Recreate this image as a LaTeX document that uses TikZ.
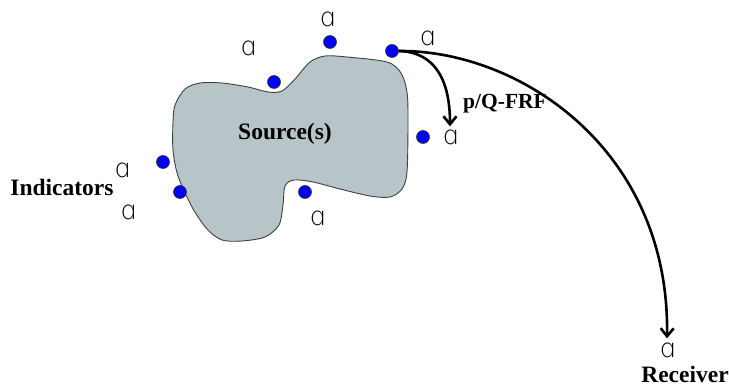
\documentclass[tikz,border=0pt]{standalone}
\usepackage{fontspec}
\setmainfont{Liberation Serif}
\newfontfamily\micfont{DejaVu Sans ExtraLight}
\usetikzlibrary{arrows.meta}
\definecolor{blobfill}{RGB}{183,196,200}
\definecolor{dotblue}{RGB}{0,0,245}
\tikzset{
  lbl/.style={font=\fontsize{23.5}{26}\selectfont\bfseries, inner sep=0pt},
  mic/.style={font=\fontsize{26}{28}\micfont, inner sep=0pt},
  sensor/.style={circle, fill=dotblue, draw=black!80, line width=0.6pt, minimum size=13pt, inner sep=0pt},
  blob/.style={draw=black!75, line width=0.9pt, fill=blobfill},
  frf/.style={line width=2.6pt, -{Straight Barb[length=8pt,width=13pt,line width=2.6pt]}}
}
\begin{document}
\begin{tikzpicture}[x=1pt,y=-1pt]
\useasboundingbox (0,0) rectangle (729,387);
\draw[blob] plot[smooth cycle, tension=0.5] coordinates {
 (175,105) (185,89) (200,83) (222,83) (248,87) (268,92) (282,91) (295,79) (310,62)
 (325,56) (347,57) (387,62) (401,73) (407,92) (408,120) (407,172) (402,189) (390,197)
 (370,196) (340,189) (313,182) (294,180) (285,186) (283,205) (279,225) (265,237)
 (242,241) (222,240) (207,229) (192,207) (178,176) (173,150) (173,122)};
\node[lbl] (src) at (285,134) {Source(s)};
\node[lbl] (ind) at (62,187) {Indicators};
\node[lbl] (rec) at (685,374) {Receiver};
\node[lbl, font=\fontsize{21.5}{24}\selectfont\bfseries] (frf) at (505,104) {p/Q-FRF};
% sensors
\node[sensor] (d1) at (330,42) {};
\node[sensor] (d2) at (392,51) {};
\node[sensor] (d3) at (274,82) {};
\node[sensor] (d4) at (423,137) {};
\node[sensor] (d5) at (163,162) {};
\node[sensor] (d6) at (180,192) {};
\node[sensor] (d7) at (305,192) {};
% microphones
\node[mic] (m1) at (327,19) {ɑ};
\node[mic] (m2) at (248,48) {ɑ};
\node[mic] (m3) at (427,38) {ɑ};
\node[mic] (m4) at (450,137) {ɑ};
\node[mic] (m5) at (317,218) {ɑ};
\node[mic] (m6) at (122,170) {ɑ};
\node[mic] (m7) at (128,212) {ɑ};
\node[mic] (rx) at (667,350) {ɑ};
% connectors
\draw[frf] (d2.east) .. controls (435,52) and (450,80) .. ([yshift=3pt]m4.north);
\draw[frf] (d2.east) .. controls (520,50) and (670,150) .. ([yshift=4pt]rx.north);
\end{tikzpicture}
\end{document}
